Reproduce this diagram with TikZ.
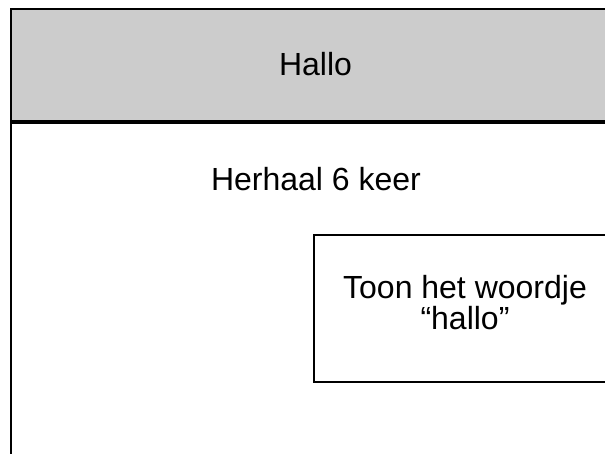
\documentclass[tikz,border=0pt]{standalone}
\usepackage{fontspec}
\setmainfont{Liberation Sans}
\begin{document}
\begin{tikzpicture}[x=1pt,y=1pt,
  lbl/.style={font=\fontsize{32}{27}\selectfont, inner sep=0pt, anchor=base, align=center},
  frame/.style={draw=black, line width=2pt}]
\useasboundingbox (0,0) rectangle (605,-453);
\begin{scope}
\clip (0,0) rectangle (605,-453);
% header
\fill[gray!40] (11,-9) rectangle (640,-122);
\draw[frame] (640,-9) -- (11,-9) -- (11,-470);
\draw[draw=black, line width=4pt] (10,-122) -- (640,-122);
% inner box
\draw[frame] (640,-235) -- (314,-235) -- (314,-382) -- (640,-382);
\end{scope}
\node[lbl] (hallo) at (315.5,-75) {Hallo};
\node[lbl] (herhaal) at (316,-190) {Herhaal 6 keer};
\node[lbl] (toon) at (465,-329) {Toon het woordje\\“hallo”};
\end{tikzpicture}
\end{document}
